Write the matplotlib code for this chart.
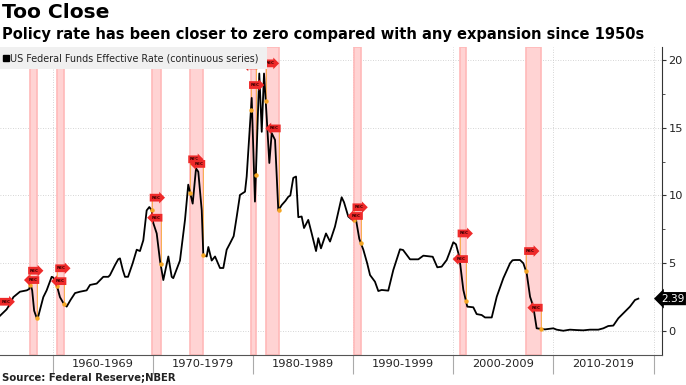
import numpy as np
import matplotlib
matplotlib.use("Agg")
import matplotlib.pyplot as plt
from matplotlib import transforms
from matplotlib.patches import Rectangle

# ---------------- data ----------------
years = [1954.54, 1955.21, 1955.55, 1955.89, 1956.56, 1957.25, 1957.50, 1957.62, 1957.80, 1958.00,
         1958.26, 1958.39, 1958.93, 1959.27, 1959.78, 1959.94, 1960.29, 1960.62, 1960.96, 1961.30,
         1961.70, 1962.15, 1962.65, 1963.33, 1963.67, 1964.35, 1965.02, 1965.53, 1965.70, 1966.21,
         1966.54, 1966.71, 1967.00, 1967.22, 1967.53, 1968.00, 1968.41, 1968.74, 1969.08, 1969.42,
         1969.69, 1969.93, 1970.09, 1970.44, 1970.77, 1971.11, 1971.62, 1971.96, 1972.12, 1972.80,
         1973.31, 1973.64, 1974.09, 1974.43, 1974.66, 1975.01, 1975.17, 1975.51, 1975.68, 1976.02,
         1976.36, 1976.86, 1977.20, 1977.54, 1977.88, 1978.25, 1978.56, 1978.89, 1979.40, 1979.57,
         1980.08, 1980.41, 1980.85, 1981.10, 1981.33, 1981.60, 1981.87, 1982.11, 1982.45, 1982.78,
         1983.13, 1983.50, 1983.79, 1984.00, 1984.30, 1984.58, 1984.81, 1985.15, 1985.39, 1985.82,
         1986.17, 1986.61, 1986.84, 1987.11, 1987.62, 1988.03, 1988.53, 1989.21, 1989.45, 1989.88,
         1990.23, 1990.67, 1991.00, 1991.41, 1991.80, 1992.09, 1992.59, 1992.93, 1993.27, 1993.94,
         1994.45, 1995.13, 1995.44, 1996.15, 1996.99, 1997.50, 1998.45, 1998.92, 1999.36, 1999.87,
         2000.13, 2000.54, 2000.81, 2001.15, 2001.56, 2001.96, 2002.57, 2002.91, 2003.42, 2003.76,
         2004.44, 2004.95, 2005.62, 2006.30, 2006.55, 2006.80, 2007.31, 2007.65, 2007.99, 2008.33,
         2008.66, 2009.00, 2009.85, 2010.69, 2011.03, 2011.70, 2012.38, 2013.06, 2013.73, 2014.41,
         2015.26, 2015.77, 2016.27, 2016.78, 2017.29, 2017.79, 2018.47, 2018.98, 2019.32]
rates = [1.13, 1.60, 2.00, 2.50, 2.90, 3.00, 3.10, 3.50, 3.00, 1.50,
         0.96, 1.00, 2.50, 3.00, 4.00, 3.95, 3.40, 2.50, 2.07, 1.80,
         2.30, 2.80, 2.90, 3.00, 3.40, 3.50, 4.00, 4.00, 4.13, 4.87,
         5.30, 5.36, 4.50, 4.00, 4.00, 5.00, 6.00, 5.90, 6.70, 8.90,
         9.15, 8.90, 7.97, 7.20, 5.20, 3.76, 5.50, 4.00, 3.90, 5.20,
         8.20, 10.80, 9.40, 12.00, 11.75, 8.90, 5.60, 5.50, 6.20, 5.20,
         5.50, 4.65, 4.65, 6.00, 6.47, 7.00, 8.44, 10.04, 10.28, 11.40,
         17.20, 9.55, 19.00, 14.70, 19.00, 15.80, 12.40, 14.60, 14.10, 8.90,
         9.30, 9.60, 9.90, 10.00, 11.30, 11.40, 8.40, 8.45, 7.60, 8.20,
         7.20, 5.90, 6.85, 6.10, 7.20, 6.60, 7.70, 9.87, 9.50, 8.45,
         8.24, 8.20, 6.80, 6.00, 5.00, 4.13, 3.64, 2.95, 3.03, 2.98,
         4.50, 6.03, 5.98, 5.29, 5.29, 5.56, 5.48, 4.70, 4.75, 5.24,
         5.73, 6.55, 6.40, 5.48, 3.03, 1.80, 1.75, 1.25, 1.18, 1.00,
         1.00, 2.53, 3.90, 5.00, 5.22, 5.24, 5.24, 5.00, 4.26, 2.53,
         1.80, 0.20, 0.12, 0.20, 0.10, 0.02, 0.10, 0.07, 0.05, 0.10,
         0.10, 0.20, 0.37, 0.40, 0.94, 1.30, 1.80, 2.29, 2.39]

rec_start = [1957.58, 1960.33, 1969.92, 1973.83, 1980.00, 1981.50, 1990.50, 2001.17, 2007.92]
rec_end = [1958.33, 1961.08, 1970.83, 1975.17, 1980.50, 1982.83, 1991.17, 2001.83, 2009.42]
flag_start_vals = [4.45, 4.63, 9.84, 12.67, 18.15, 19.75, 9.13, 7.20, 5.90]
flag_end_vals = [3.76, 3.68, 8.36, 12.33, 19.60, 14.95, 8.49, 5.31, 1.72]
edge_flag_val = 2.16

decade_labels = ["1960-1969", "1970-1979", "1980-1989", "1990-1999", "2000-2009", "2010-2019"]
decade_bounds = [1959.9, 1970.05, 1980.2, 1990.35, 2000.5, 2010.65, 2020.9]
y_ticks = [0, 5, 10, 15, 20]
last_label = "2.39"

title = "Too Close"
subtitle = "Policy rate has been closer to zero compared with any expansion since 1950s"
legend_text = "US Federal Funds Effective Rate (continuous series)"
source = "Source: Federal Reserve;NBER"

# ---------------- figure ----------------
W, H = 686, 385
fig = plt.figure(figsize=(W / 100, H / 100), dpi=100)
ax_left, ax_right, ax_top, ax_bottom = 0, 662, 46.7, 355
ax = fig.add_axes([ax_left / W, 1 - ax_bottom / H, (ax_right - ax_left) / W, (ax_bottom - ax_top) / H])

xmin, xmax = 1954.535, 1954.535 + 662 * 0.10149
ax.set_xlim(xmin, xmax)
ax.set_ylim(-1.77, 20.98)

# recession shading
for s, e in zip(rec_start, rec_end):
    ax.axvspan(s, e, facecolor="#ffd3d3", edgecolor="#ffb9b9", lw=1.2, zorder=1)

# grid
for yv in y_ticks:
    ax.axhline(yv, color="#c8c8c8", lw=0.6, ls=(0, (1, 2)), zorder=0.5)
for xv in decade_bounds:
    ax.axvline(xv, color="#c8c8c8", lw=0.6, ls=(0, (1, 2)), zorder=0.5)

# main line
ax.plot(years, rates, color="black", lw=1.3, zorder=3, solid_joinstyle="round")

# recession markers
yrs = np.array(years)
rts = np.array(rates)
flag_kw = dict(fontsize=3.0, color="#3a0000", fontweight="bold", va="center", zorder=5, clip_on=True)
for s, e, fs, fe in zip(rec_start, rec_end, flag_start_vals, flag_end_vals):
    vs = np.interp(s, yrs, rts)
    ve = np.interp(e, yrs, rts)
    ax.plot([s, s], [vs, fs], color="#f5a623", lw=0.5, zorder=2)
    ax.plot([e, e], [ve, fe], color="#f5a623", lw=0.5, zorder=2)
    ax.plot([s, e], [vs, ve], ls="none", marker="o", ms=2.2, color="#f5a623", zorder=4)
    ax.text(s, fs, "REC", ha="left",
            bbox=dict(boxstyle="rarrow,pad=0.45", fc="#ee2a2a", ec="none"), **flag_kw)
    ax.text(e, fe, "REC", ha="right",
            bbox=dict(boxstyle="larrow,pad=0.45", fc="#ee2a2a", ec="none"), **flag_kw)
ax.text(xmin + 0.15, edge_flag_val, "REC", ha="left",
        bbox=dict(boxstyle="rarrow,pad=0.45", fc="#ee2a2a", ec="none"), **flag_kw)

# legend box
ax.add_patch(Rectangle((0, 1 - 22.6 / 308.3), 266.7 / 662, 22.6 / 308.3, transform=ax.transAxes,
                       facecolor="#f0f0f0", edgecolor="none", zorder=6))
ax.plot([6 / 662], [1 - 11 / 308.3], transform=ax.transAxes, marker="s", ms=4.2, color="black",
        zorder=7, clip_on=False)
ax.text(10.5 / 662, 1 - 11.5 / 308.3, legend_text, transform=ax.transAxes, fontsize=6.95,
        family="DejaVu Sans", color="#222222", va="center", ha="left", zorder=7)

# axes styling
for side in ["left", "top"]:
    ax.spines[side].set_visible(False)
ax.spines["right"].set_color("#333333")
ax.spines["right"].set_linewidth(0.8)
ax.spines["bottom"].set_color("#555555")
ax.spines["bottom"].set_linewidth(0.8)

ax.yaxis.tick_right()
ax.set_yticks(y_ticks)
ax.set_yticklabels([str(v) for v in y_ticks])
ax.set_yticks([2.5, 7.5, 12.5, 17.5], minor=True)
ax.tick_params(axis="y", which="major", direction="out", length=3, width=0.8, color="#333333",
               labelsize=8.2, labelcolor="#222222", pad=1.5)
ax.tick_params(axis="y", which="minor", direction="out", length=2, width=0.6, color="#333333")

ax.set_xticks(decade_bounds)
ax.set_xticklabels([""] * len(decade_bounds))
mids = [(a + b) / 2 for a, b in zip(decade_bounds[:-1], decade_bounds[1:])]
ax.set_xticks(mids, minor=True)
ax.set_xticklabels(decade_labels, minor=True)
ax.tick_params(axis="x", which="major", direction="out", length=14, width=0.8, color="#aaaaaa")
ax.tick_params(axis="x", which="minor", length=0, labelsize=8.2, labelcolor="#222222", pad=3)

# last value tag
trans = transforms.blended_transform_factory(ax.transAxes, ax.transData)
ax.text(1 - 1 / 662, rates[-1], last_label, transform=trans, fontsize=7.6, color="white",
        va="center", ha="left", zorder=8, clip_on=False,
        bbox=dict(boxstyle="larrow,pad=0.15", fc="black", ec="none"))

# titles
fig.text(2 / W, 1 - 13 / H, title, fontsize=14.6, fontweight="bold", color="black",
         va="center", ha="left")
fig.text(2 / W, 1 - 34 / H, subtitle, fontsize=10.5, fontweight="bold", color="black",
         va="center", ha="left")
fig.text(2 / W, 1 - 378 / H, source, fontsize=7.3, fontweight="bold", color="#222222",
         va="center", ha="left")

fig.savefig("out.png", dpi=100)
